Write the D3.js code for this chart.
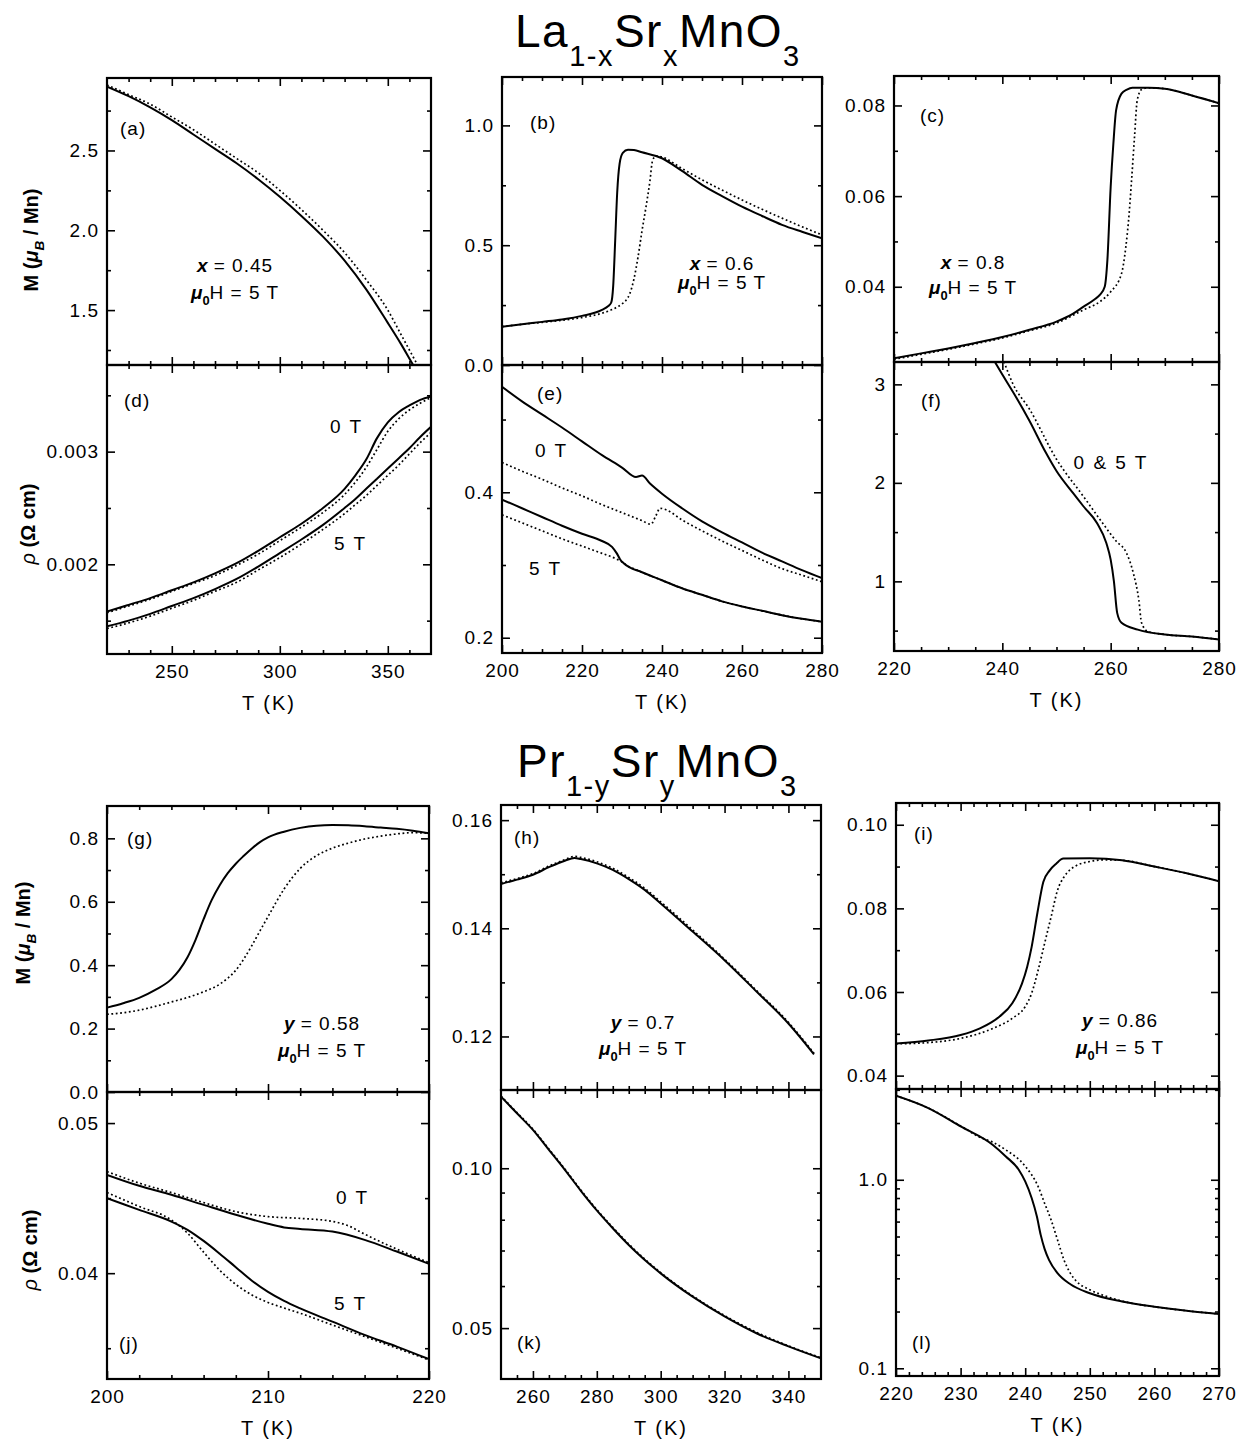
<!DOCTYPE html>
<html>
<head>
<meta charset="utf-8">
<script src="https://cdn.jsdelivr.net/npm/d3@7"></script>
<style>
  body { margin: 0; background: #fff; }
  svg { font-family: "Liberation Sans", Arial, sans-serif; }
</style>
</head>
<body>
<div id="chart"></div>
<script>
// ---------- data ----------
// (a) La, x = 0.45, M vs T
var aT      = [220, 230, 240, 250, 260, 270, 280, 290, 300, 310, 320, 330, 340, 350, 356, 362, 366];
var aSolid  = [2.90, 2.84, 2.77, 2.69, 2.60, 2.51, 2.42, 2.32, 2.21, 2.09, 1.96, 1.81, 1.63, 1.42, 1.29, 1.15, 1.06];
var aDot    = [2.91, 2.85, 2.79, 2.71, 2.63, 2.54, 2.45, 2.36, 2.25, 2.13, 2.00, 1.86, 1.69, 1.50, 1.35, 1.20, 1.10];
var aTicks  = [1.5, 2.0, 2.5];
var aMinor  = [1.25, 1.75, 2.25, 2.75];

// (d) La, x = 0.45, rho vs T
var dT      = [220, 230, 240, 250, 260, 270, 280, 290, 300, 310, 320, 330, 335, 340, 345, 350, 355, 360, 365, 370];
var d0Solid = [0.00158, 0.00164, 0.00170, 0.00177, 0.00184, 0.00192, 0.00201, 0.00212, 0.00224, 0.00236, 0.00250, 0.00267, 0.00279, 0.00293, 0.00312, 0.00326, 0.00335, 0.00341, 0.00346, 0.00349];
var d0Dot   = [0.00157, 0.00163, 0.00169, 0.00176, 0.00183, 0.00190, 0.00199, 0.00209, 0.00221, 0.00233, 0.00246, 0.00262, 0.00273, 0.00286, 0.00302, 0.00318, 0.00329, 0.00337, 0.00343, 0.00348];
var d5Solid = [0.00145, 0.00150, 0.00156, 0.00163, 0.00170, 0.00178, 0.00187, 0.00198, 0.00210, 0.00222, 0.00235, 0.00250, 0.00258, 0.00267, 0.00276, 0.00285, 0.00294, 0.00303, 0.00313, 0.00322];
var d5Dot   = [0.00143, 0.00148, 0.00154, 0.00161, 0.00168, 0.00176, 0.00184, 0.00195, 0.00206, 0.00218, 0.00231, 0.00245, 0.00253, 0.00261, 0.00270, 0.00279, 0.00288, 0.00298, 0.00308, 0.00317];
var dTicks  = [0.002, 0.003];
var dMinor  = [0.0015, 0.0025, 0.0035];
var adXTicks = [250, 300, 350];
var adXMinor = [230, 240, 260, 270, 280, 290, 310, 320, 330, 340, 360];

// (b) La, x = 0.6, M vs T
var bT      = [200, 205, 210, 215, 220, 225, 226.5, 227.3, 227.8, 228.3, 228.8, 229.4, 230.2, 231.5, 233, 235, 240, 245, 250, 255, 260, 265, 270, 275, 280];
var bSolid  = [0.16, 0.17, 0.18, 0.19, 0.205, 0.23, 0.245, 0.26, 0.33, 0.52, 0.72, 0.84, 0.885, 0.898, 0.897, 0.888, 0.863, 0.81, 0.752, 0.705, 0.661, 0.622, 0.585, 0.556, 0.529];
var bDotT   = [200, 205, 210, 215, 220, 225, 228, 230, 231, 232, 233, 234, 235, 236, 237, 237.6, 238.5, 240, 245, 250, 255, 260, 265, 270, 275, 280];
var bDot    = [0.16, 0.17, 0.178, 0.187, 0.198, 0.216, 0.235, 0.255, 0.27, 0.30, 0.36, 0.45, 0.56, 0.66, 0.77, 0.85, 0.873, 0.868, 0.82, 0.773, 0.73, 0.689, 0.65, 0.613, 0.577, 0.543];
var bTicks  = [0, 0.5, 1.0];
var bMinor  = [0.25, 0.75];

// (e) La, x = 0.6, rho vs T
var e0T     = [200, 205, 210, 215, 220, 225, 230, 233.5, 235, 237, 240, 245, 250, 255, 260, 265, 270, 275, 280];
var e0Solid = [0.545, 0.525, 0.507, 0.489, 0.470, 0.451, 0.434, 0.421, 0.423, 0.412, 0.398, 0.378, 0.360, 0.345, 0.331, 0.317, 0.305, 0.293, 0.282];
var e0DotT  = [200, 205, 210, 215, 220, 225, 230, 235, 237.2, 238.5, 239.5, 241, 245, 250, 255, 260, 265, 270, 275, 280];
var e0Dot   = [0.441, 0.429, 0.418, 0.406, 0.395, 0.383, 0.372, 0.361, 0.356, 0.368, 0.378, 0.376, 0.362, 0.347, 0.333, 0.320, 0.307, 0.295, 0.286, 0.277];
var e5T     = [200, 205, 210, 215, 220, 225, 227.5, 228.7, 229.5, 230.5, 235, 240, 245, 250, 255, 260, 265, 270, 275, 280];
var e5Solid = [0.390, 0.378, 0.366, 0.354, 0.343, 0.333, 0.325, 0.316, 0.308, 0.302, 0.290, 0.279, 0.268, 0.259, 0.250, 0.243, 0.237, 0.231, 0.226, 0.222];
var e5Dot   = [0.369, 0.358, 0.347, 0.336, 0.326, 0.316, 0.311, 0.308, 0.306, 0.302, 0.290, 0.279, 0.268, 0.259, 0.250, 0.243, 0.237, 0.231, 0.226, 0.222];
var eTicks  = [0.2, 0.4];
var eMinor  = [0.3, 0.5];
var beXTicks = [200, 220, 240, 260, 280];
var beXMinor = [205, 210, 215, 225, 230, 235, 245, 250, 255, 265, 270, 275];

// (c) La, x = 0.8, M vs T
var cT      = [220, 225, 230, 235, 240, 245, 250, 253, 255, 257, 258, 258.9, 259.4, 260, 260.5, 261, 262, 263, 264, 267, 270, 275, 280];
var cSolid  = [0.0242, 0.0253, 0.0264, 0.0276, 0.0289, 0.0305, 0.0323, 0.0340, 0.0356, 0.0372, 0.0382, 0.0400, 0.0460, 0.0620, 0.0716, 0.0789, 0.0826, 0.0835, 0.0839, 0.0839, 0.0837, 0.0822, 0.0805];
var cDotT   = [220, 225, 230, 235, 240, 245, 250, 255, 258, 260, 262, 262.8, 263.4, 263.9, 264.4, 264.9, 265.7, 267, 270, 275, 280];
var cDot    = [0.0240, 0.0251, 0.0262, 0.0274, 0.0287, 0.0303, 0.0320, 0.0349, 0.0367, 0.0389, 0.0429, 0.0488, 0.0560, 0.0642, 0.0730, 0.0811, 0.0835, 0.0839, 0.0837, 0.0822, 0.0805];
var cTicks  = [0.04, 0.06, 0.08];
var cMinor  = [0.03, 0.05, 0.07];

// (f) La, x = 0.8, rho vs T (0 & 5 T)
var fT      = [238.6, 240, 242, 245, 248, 250, 253, 255, 257.5, 259.2, 260, 260.6, 261.2, 262, 265, 270, 275, 280];
var fSolid  = [3.23, 3.10, 2.92, 2.63, 2.31, 2.12, 1.90, 1.76, 1.59, 1.39, 1.22, 1.00, 0.68, 0.58, 0.51, 0.46, 0.44, 0.41];
var fDotT   = [240.3, 242, 245, 250, 255, 258, 261, 262.9, 264.2, 265.2, 265.7, 266.9, 270, 275, 280];
var fDot    = [3.23, 3.00, 2.75, 2.24, 1.86, 1.63, 1.41, 1.29, 1.08, 0.81, 0.58, 0.49, 0.46, 0.44, 0.41];
var fTicks  = [1, 2, 3];
var fMinor  = [0.5, 1.5, 2.5];
var cfXTicks = [220, 240, 260, 280];
var cfXMinor = [225, 230, 235, 245, 250, 255, 265, 270, 275];

// (g) Pr, y = 0.58, M vs T
var gT      = [200, 201, 202, 203, 204, 204.5, 205, 205.5, 206, 206.5, 207, 207.5, 208, 208.5, 209, 209.5, 210, 211, 212, 213, 214, 215, 216, 217, 218, 219, 220];
var gSolid  = [0.266, 0.280, 0.297, 0.322, 0.356, 0.385, 0.425, 0.480, 0.545, 0.605, 0.652, 0.690, 0.720, 0.745, 0.768, 0.788, 0.803, 0.821, 0.833, 0.840, 0.842, 0.841, 0.838, 0.834, 0.830, 0.824, 0.816];
var gDotT   = [200, 201, 202, 203, 204, 205, 206, 207, 208, 209, 209.5, 210, 211, 212, 213, 214, 215, 216, 217, 218, 219, 220];
var gDot    = [0.245, 0.250, 0.258, 0.270, 0.284, 0.298, 0.316, 0.340, 0.384, 0.462, 0.508, 0.553, 0.640, 0.705, 0.745, 0.769, 0.785, 0.798, 0.807, 0.814, 0.818, 0.816];
var gTicks  = [0, 0.2, 0.4, 0.6, 0.8];
var gMinor  = [0.1, 0.3, 0.5, 0.7];

// (j) Pr, y = 0.58, rho vs T
var j0T     = [200, 202, 204, 206, 208, 210, 211, 212, 214, 216, 218, 220];
var j0Solid = [0.04655, 0.04582, 0.04522, 0.04455, 0.04389, 0.04329, 0.04305, 0.04295, 0.04277, 0.04222, 0.04144, 0.04062];
var j0DotT  = [200, 202, 204, 206, 208, 210, 212, 214, 215, 216, 218, 220];
var j0Dot   = [0.04677, 0.04600, 0.04537, 0.04470, 0.04410, 0.04377, 0.04365, 0.04345, 0.04315, 0.04260, 0.04160, 0.04070];
var j5T     = [200, 202, 204, 205, 206, 207, 208, 209, 210, 211, 212, 214, 216, 218, 220];
var j5Solid = [0.04500, 0.04422, 0.04344, 0.04289, 0.04215, 0.04130, 0.04040, 0.03950, 0.03875, 0.03815, 0.03765, 0.03677, 0.03589, 0.03511, 0.03427];
var j5Dot   = [0.04537, 0.04444, 0.04355, 0.04267, 0.04140, 0.04020, 0.03925, 0.03855, 0.03805, 0.03768, 0.03733, 0.03655, 0.03578, 0.03500, 0.03422];
var jTicks  = [0.04, 0.05];
var jMinor  = [0.035, 0.045];
var gjXTicks = [200, 210, 220];
var gjXMinor = [202, 204, 206, 208, 212, 214, 216, 218];

// (h) Pr, y = 0.7, M vs T
var hT      = [250, 255, 260, 265, 270, 273, 275, 280, 285, 290, 295, 300, 310, 320, 330, 340, 348];
var hSolid  = [0.1482, 0.1490, 0.1499, 0.1513, 0.1525, 0.1530, 0.1528, 0.1520, 0.1508, 0.1491, 0.1471, 0.1446, 0.1394, 0.1341, 0.1283, 0.1224, 0.1167];
var hDot    = [0.1484, 0.1492, 0.1501, 0.1515, 0.1527, 0.1533, 0.1531, 0.1523, 0.1511, 0.1494, 0.1474, 0.1449, 0.1397, 0.1343, 0.1285, 0.1226, 0.1169];
var hTicks  = [0.12, 0.14, 0.16];
var hMinor  = [0.13, 0.15];

// (k) Pr, y = 0.7, rho vs T (log)
var kT      = [250, 255, 260, 265, 270, 275, 280, 285, 290, 300, 310, 320, 330, 340, 350];
var kSolid  = [0.1364, 0.1269, 0.1181, 0.1083, 0.0993, 0.0907, 0.0833, 0.0771, 0.0717, 0.0634, 0.0573, 0.0526, 0.0489, 0.0462, 0.0439];
var kDot    = [0.1368, 0.1273, 0.1185, 0.1087, 0.0997, 0.0910, 0.0836, 0.0774, 0.0720, 0.0636, 0.0575, 0.0528, 0.0491, 0.0463, 0.0440];
var kTicks  = [0.05, 0.10];
var kMinor  = [0.06, 0.07, 0.08, 0.09];
var hkXTicks = [260, 280, 300, 320, 340];
var hkXMinor = [255, 265, 270, 275, 285, 290, 295, 305, 310, 315, 325, 330, 335, 345];

// (i) Pr, y = 0.86, M vs T
var iT      = [220, 225, 230, 233, 236, 238, 239.5, 240.3, 241, 241.9, 242.8, 243.8, 244.8, 245.9, 250, 255, 260, 265, 270];
var iSolid  = [0.0477, 0.0484, 0.0497, 0.0513, 0.0541, 0.0573, 0.0620, 0.0660, 0.0708, 0.0790, 0.0863, 0.0891, 0.0907, 0.0919, 0.0920, 0.0915, 0.0900, 0.0884, 0.0865];
var iDotT   = [220, 225, 230, 235, 238, 240, 241, 242, 243, 244, 245, 246, 247, 248, 250, 252, 255, 260, 265, 270];
var iDot    = [0.0476, 0.0479, 0.0489, 0.0513, 0.0537, 0.0565, 0.0597, 0.0652, 0.0716, 0.0779, 0.0843, 0.0875, 0.0893, 0.0903, 0.0912, 0.0916, 0.0915, 0.0900, 0.0884, 0.0865];
var iTicks  = [0.04, 0.06, 0.08, 0.10];
var iMinor  = [0.05, 0.07, 0.09];

// (l) Pr, y = 0.86, rho vs T (log)
var lT      = [220, 225, 230, 235, 237, 239, 240, 241, 241.8, 242.4, 243, 243.7, 245, 247, 250, 255, 260, 265, 270];
var lSolid  = [2.79, 2.40, 1.92, 1.53, 1.33, 1.13, 0.98, 0.80, 0.64, 0.51, 0.43, 0.375, 0.32, 0.279, 0.25, 0.226, 0.212, 0.202, 0.194];
var lDotT   = [220, 225, 230, 233, 235, 237, 240, 242, 243, 244, 245, 246, 247, 248, 250, 253, 256, 260, 265, 270];
var lDot    = [2.79, 2.40, 1.93, 1.68, 1.58, 1.44, 1.18, 0.921, 0.751, 0.613, 0.48, 0.376, 0.319, 0.288, 0.261, 0.238, 0.223, 0.212, 0.202, 0.194];
var lTicks  = [0.1, 1.0];
var lMinor  = [0.2, 0.3, 0.4, 0.5, 0.6, 0.7, 0.8, 0.9, 2, 3];
var ilXTicks = [220, 230, 240, 250, 260, 270];
var ilXMinor = [222, 224, 226, 228, 232, 234, 236, 238, 242, 244, 246, 248, 252, 254, 256, 258, 262, 264, 266, 268];

// ---------- drawing ----------
var svg = d3.select('#chart').append('svg')
    .attr('width', 1248)
    .attr('height', 1450);

var line = d3.line().curve(d3.curveMonotoneX);

// text made of styled pieces; subscripts drop by subDy and shrink to subScale
function richText(x, y, size, parts, anchor, transform, subDy, subScale) {
    var t = svg.append('text')
        .attr('x', x).attr('y', y)
        .attr('font-size', size)
        .attr('text-anchor', anchor || 'start')
        .attr('fill', '#000');
    if (transform) t.attr('transform', transform);
    var drop = subDy || size * 0.3;
    var scale = subScale || 0.68;
    var shift = 0;
    parts.forEach(function(p) {
        var s = t.append('tspan').text(p.s);
        var want = p.sub ? drop : 0;
        if (want !== shift) { s.attr('dy', want - shift); shift = want; }
        if (p.sub) s.attr('font-size', size * scale);
        if (p.b) s.attr('font-weight', 'bold');
        if (p.i) s.attr('font-style', 'italic');
        if (p.ls) s.attr('letter-spacing', p.ls);
    });
    return t;
}

function drawPanel(p) {
    var x = d3.scaleLinear().domain(p.xDomain).range([p.x0, p.x1]);
    var y = (p.log ? d3.scaleLog() : d3.scaleLinear()).domain(p.yDomain).range([p.y1, p.y0]);
    var g = svg.append('g');

    svg.append('clipPath').attr('id', 'clip-' + p.id)
        .append('rect')
        .attr('x', p.x0).attr('y', p.y0)
        .attr('width', p.x1 - p.x0).attr('height', p.y1 - p.y0);

    // curves: solid and dotted
    p.series.forEach(function(s) {
        var pts = s.t.map(function(t, i) { return [x(t), y(s.v[i])]; });
        g.append('path')
            .attr('d', line(pts))
            .attr('clip-path', 'url(#clip-' + p.id + ')')
            .attr('fill', 'none')
            .attr('stroke', '#000')
            .attr('stroke-width', s.dotted ? 1.7 : 2)
            .attr('stroke-dasharray', s.dotted ? '1.8,2.6' : null);
    });

    // inward ticks on all four sides
    function ticks(axis, tr, values, size, fmt) {
        var a = axis.tickValues(values).tickSizeInner(-size).tickSizeOuter(0)
            .tickPadding(8).tickFormat(fmt || '');
        var sel = g.append('g').attr('transform', tr).call(a);
        sel.select('.domain').remove();
        sel.selectAll('line').attr('stroke-width', 1.6);
        sel.attr('font-size', 19).attr('font-family', '"Liberation Sans", Arial, sans-serif');
        sel.selectAll('text').attr('letter-spacing', 1);
        return sel;
    }
    var yFmt = d3.format(p.yFmt);
    ticks(d3.axisLeft(y), 'translate(' + p.x0 + ',0)', p.yTicks, 8, yFmt);
    ticks(d3.axisLeft(y), 'translate(' + p.x0 + ',0)', p.yMinor, 4);
    ticks(d3.axisRight(y), 'translate(' + p.x1 + ',0)', p.yTicks, 8);
    ticks(d3.axisRight(y), 'translate(' + p.x1 + ',0)', p.yMinor, 4);
    var bx = ticks(d3.axisBottom(x), 'translate(0,' + p.y1 + ')', p.xTicks, 8, p.xLabels ? d3.format('d') : null);
    bx.selectAll('text').attr('y', 11);
    ticks(d3.axisBottom(x), 'translate(0,' + p.y1 + ')', p.xMinor, 4);
    ticks(d3.axisTop(x), 'translate(0,' + p.y0 + ')', p.xTicks, 8);
    ticks(d3.axisTop(x), 'translate(0,' + p.y0 + ')', p.xMinor, 4);

    g.append('rect')
        .attr('x', p.x0).attr('y', p.y0)
        .attr('width', p.x1 - p.x0).attr('height', p.y1 - p.y0)
        .attr('fill', 'none').attr('stroke', '#000').attr('stroke-width', 2.2);

    if (p.xLabels) {
        richText((p.x0 + p.x1) / 2, p.y1 + 56, 20, [{s: 'T (K)', ls: 2}], 'middle');
    }
}

function S(t, v) { return {t: t, v: v, dotted: false}; }
function D(t, v) { return {t: t, v: v, dotted: true}; }

var panels = [
    {id: 'a', x0: 107, x1: 431, y0: 78, y1: 365, xDomain: [220, 370], yDomain: [1.156, 2.954],
     yTicks: aTicks, yMinor: aMinor, yFmt: '.1f', xTicks: adXTicks, xMinor: adXMinor,
     series: [D(aT, aDot), S(aT, aSolid)]},
    {id: 'd', x0: 107, x1: 431, y0: 365, y1: 654, xDomain: [220, 370], yDomain: [0.001204, 0.003769],
     yTicks: dTicks, yMinor: dMinor, yFmt: '.3f', xTicks: adXTicks, xMinor: adXMinor, xLabels: true,
     series: [D(dT, d0Dot), S(dT, d0Solid), D(dT, d5Dot), S(dT, d5Solid)]},
    {id: 'b', x0: 502, x1: 822, y0: 77, y1: 365, xDomain: [200, 280], yDomain: [0, 1.202],
     yTicks: bTicks, yMinor: bMinor, yFmt: '.1f', xTicks: beXTicks, xMinor: beXMinor,
     series: [D(bDotT, bDot), S(bT, bSolid)]},
    {id: 'e', x0: 502, x1: 822, y0: 365, y1: 653, xDomain: [200, 280], yDomain: [0.179, 0.575],
     yTicks: eTicks, yMinor: eMinor, yFmt: '.1f', xTicks: beXTicks, xMinor: beXMinor, xLabels: true,
     series: [D(e0DotT, e0Dot), S(e0T, e0Solid), D(e5T, e5Dot), S(e5T, e5Solid)]},
    {id: 'c', x0: 894, x1: 1219, y0: 76, y1: 362, xDomain: [220, 280], yDomain: [0.0234, 0.0865],
     yTicks: cTicks, yMinor: cMinor, yFmt: '.2f', xTicks: cfXTicks, xMinor: cfXMinor,
     series: [D(cDotT, cDot), S(cT, cSolid)]},
    {id: 'f', x0: 894, x1: 1219, y0: 362, y1: 651, xDomain: [220, 280], yDomain: [0.293, 3.227],
     yTicks: fTicks, yMinor: fMinor, yFmt: 'd', xTicks: cfXTicks, xMinor: cfXMinor, xLabels: true,
     series: [D(fDotT, fDot), S(fT, fSolid)]},
    {id: 'g', x0: 107, x1: 429, y0: 806, y1: 1092, xDomain: [200, 220], yDomain: [0, 0.902],
     yTicks: gTicks, yMinor: gMinor, yFmt: '.1f', xTicks: gjXTicks, xMinor: gjXMinor,
     series: [D(gDotT, gDot), S(gT, gSolid)]},
    {id: 'j', x0: 107, x1: 429, y0: 1092, y1: 1379, xDomain: [200, 220], yDomain: [0.03295, 0.05207],
     yTicks: jTicks, yMinor: jMinor, yFmt: '.2f', xTicks: gjXTicks, xMinor: gjXMinor, xLabels: true,
     series: [D(j0DotT, j0Dot), S(j0T, j0Solid), D(j5T, j5Dot), S(j5T, j5Solid)]},
    {id: 'h', x0: 501, x1: 821, y0: 805, y1: 1090, xDomain: [250, 350.2], yDomain: [0.1101, 0.1628],
     yTicks: hTicks, yMinor: hMinor, yFmt: '.2f', xTicks: hkXTicks, xMinor: hkXMinor,
     series: [D(hT, hDot), S(hT, hSolid)]},
    {id: 'k', x0: 501, x1: 821, y0: 1090, y1: 1379, xDomain: [250, 350.2], yDomain: [0.0401, 0.1404], log: true,
     yTicks: kTicks, yMinor: kMinor, yFmt: '.2f', xTicks: hkXTicks, xMinor: hkXMinor, xLabels: true,
     series: [D(kT, kDot), S(kT, kSolid)]},
    {id: 'i', x0: 896, x1: 1219, y0: 803, y1: 1089, xDomain: [220, 270], yDomain: [0.0368, 0.1052],
     yTicks: iTicks, yMinor: iMinor, yFmt: '.2f', xTicks: ilXTicks, xMinor: ilXMinor,
     series: [D(iDotT, iDot), S(iT, iSolid)]},
    {id: 'l', x0: 896, x1: 1219, y0: 1089, y1: 1376, xDomain: [220, 270], yDomain: [0.091, 3.03], log: true,
     yTicks: lTicks, yMinor: lMinor, yFmt: '.1f', xTicks: ilXTicks, xMinor: ilXMinor, xLabels: true,
     series: [D(lDotT, lDot), S(lT, lSolid)]}
];
panels.forEach(drawPanel);

// panel letters
var letters = [['(a)', 120, 135], ['(d)', 124, 407], ['(b)', 530, 129], ['(e)', 537, 400],
               ['(c)', 920, 122], ['(f)', 921, 407], ['(g)', 127, 845], ['(j)', 119, 1350],
               ['(h)', 514, 844], ['(k)', 517, 1349], ['(i)', 914, 840], ['(l)', 912, 1349]];
letters.forEach(function(l) { richText(l[1], l[2], 19, [{s: l[0], ls: 1}]); });

// field labels on resistivity curves
[['0 T', 330, 433], ['5 T', 334, 550], ['0 T', 535, 457], ['5 T', 529, 575],
 ['0 T', 336, 1204], ['5 T', 334, 1310]].forEach(function(l) {
    richText(l[1], l[2], 19, [{s: l[0], ls: 2}]);
});
richText(1111, 469, 19, [{s: '0 & 5 T', ls: 2}], 'middle');

// composition / field annotations
function annot(cx, y1, y2, v, val) {
    richText(cx, y1, 19, [{s: v, b: true, i: true}, {s: ' = ' + val, ls: 1}], 'middle');
    richText(cx, y2, 19, [{s: '\u03bc', b: true, i: true}, {s: '0', sub: true, b: true}, {s: 'H = 5 T', ls: 1}], 'middle');
}
annot(235, 272, 299, 'x', '0.45');
annot(722, 270, 289, 'x', '0.6');
annot(973, 269, 294, 'x', '0.8');
annot(322, 1030, 1057, 'y', '0.58');
annot(643, 1029, 1055, 'y', '0.7');
annot(1120, 1027, 1054, 'y', '0.86');

// y-axis titles
function mLabel(x, y) {
    richText(0, 0, 20, [{s: 'M (', b: true}, {s: '\u03bc', b: true, i: true}, {s: 'B', sub: true, b: true, i: true},
                        {s: ' / Mn)', b: true}], 'middle', 'translate(' + x + ',' + y + ') rotate(-90)');
}
function rhoLabel(x, y) {
    richText(0, 0, 20, [{s: '\u03c1', i: true}, {s: ' (\u03a9 cm)', b: true}], 'middle', 'translate(' + x + ',' + y + ') rotate(-90)');
}
mLabel(38, 240);
rhoLabel(35, 524);
mLabel(30, 933);
rhoLabel(37, 1250);

// compound titles
function title(x, y, parts) {
    richText(x, y, 46, parts.map(function(p, i) {
        return {s: p, sub: i % 2 === 1, ls: 1.5};
    }), 'start', null, 19, 0.63);
}
title(515, 47, ['La', '1-x', 'Sr', 'x', 'MnO', '3']);
title(517, 777, ['Pr', '1-y', 'Sr', 'y', 'MnO', '3']);
</script>
</body>
</html>
